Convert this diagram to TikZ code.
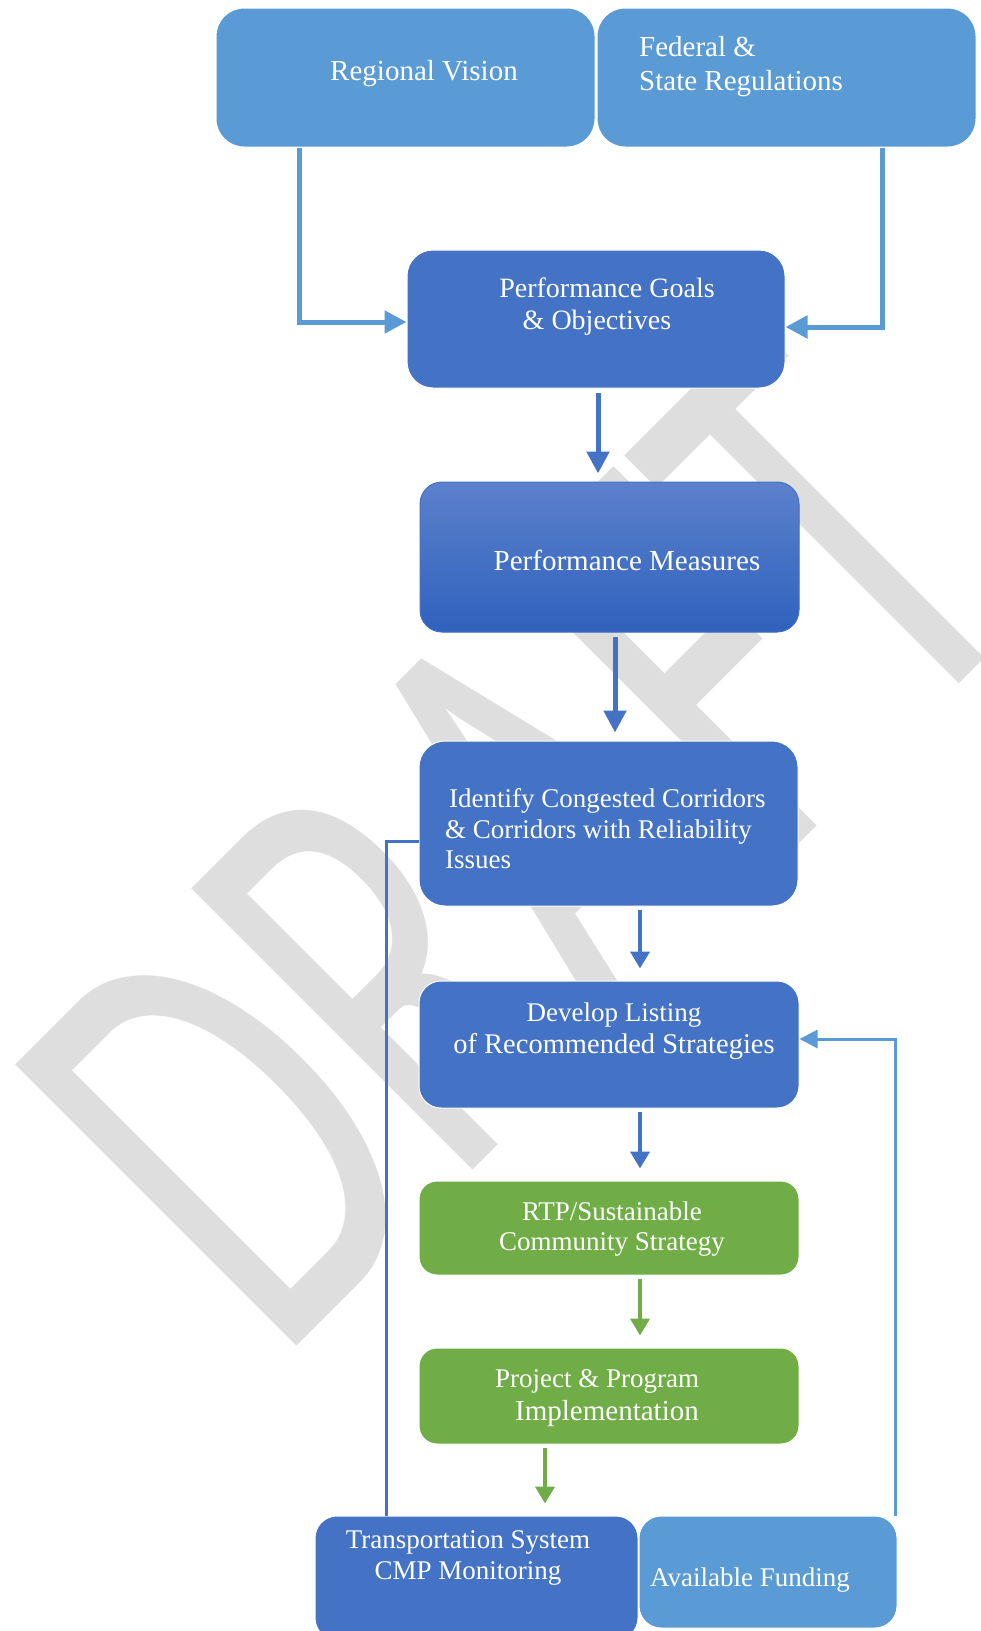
\documentclass[tikz,border=0pt]{standalone}
\usepackage{fontspec}
\setmainfont{Liberation Serif}
\newfontfamily\wmfont{Carlito}
\usetikzlibrary{arrows.meta}
\definecolor{lblue}{RGB}{91,155,213}
\definecolor{mblue}{RGB}{68,114,196}
\definecolor{dgreen}{RGB}{112,173,71}
\definecolor{wmgray}{RGB}{222,222,222}
\definecolor{meastop}{RGB}{92,129,204}
\definecolor{measbot}{RGB}{47,98,189}
\tikzset{
  box/.style={draw=white,line width=1pt,fill=#1,rounded corners=22pt,inner sep=0pt},
  lbl/.style={text=white,inner sep=0pt,align=center},
  lbarrow/.style={lblue,line width=5pt,-{Triangle[length=22pt,width=22pt]}},
  barrow/.style={mblue,line width=5pt,-{Triangle[length=22pt,width=22pt]},shorten <=4pt,shorten >=8pt},
  sarrow/.style={#1,line width=4pt,-{Triangle[length=17pt,width=19pt]},shorten <=3pt,shorten >=12pt},
  fback/.style={#1,line width=3pt}
}
\begin{document}
\begin{tikzpicture}[x=1pt,y=-1pt]
\useasboundingbox (0,0) rectangle (981,1631);

\node[rotate=45,anchor=base west,inner sep=0pt,text=wmgray] (wmark) at (277,1366)
  {\scalebox{0.65}[1]{\wmfont\fontsize{620}{620}\selectfont DRAFT}};

\node[box=lblue,rounded corners=28pt,minimum width=379pt,minimum height=139pt] (vis) at (405.5,77.5) {};
\node[box=lblue,rounded corners=28pt,minimum width=379pt,minimum height=139pt] (fed) at (786.5,77.5) {};
\node[box=mblue,rounded corners=26pt,minimum width=378pt,minimum height=138pt] (goal) at (596,319) {};
\node[box=mblue,draw=mblue,top color=meastop,bottom color=measbot,minimum width=379pt,minimum height=150pt] (meas) at (609.5,557) {};
\node[box=mblue,rounded corners=26pt,minimum width=379pt,minimum height=165pt] (iden) at (608.5,823.5) {};
\node[box=mblue,minimum width=380pt,minimum height=127pt] (devl) at (609,1044.5) {};
\node[box=dgreen,rounded corners=18pt,minimum width=380pt,minimum height=94pt] (rtp) at (609,1228) {};
\node[box=dgreen,rounded corners=18pt,minimum width=380pt,minimum height=96pt] (proj) at (609,1396) {};
\node[box=mblue,minimum width=323pt,minimum height=124pt] (tran) at (476.5,1578) {};
\node[box=lblue,minimum width=258pt,minimum height=112pt] (fund) at (768,1572) {};

\node[lbl,font=\fontsize{29}{34}\selectfont] (vistxt) at (424,74) {Regional Vision};
\node[lbl,font=\fontsize{29}{34}\selectfont,anchor=west,align=left] (fedtxt) at (639,67) {Federal \&\\State Regulations};
\node[lbl,font=\fontsize{28}{32}\selectfont] (goaltxt) at (607,307) {Performance Goals\\\& Objectives\hspace*{20pt}};
\node[lbl,font=\fontsize{29}{34}\selectfont] (meastxt) at (627,560) {Performance Measures};
\node[lbl,font=\fontsize{27}{30.5}\selectfont,anchor=west,align=left] (identxt) at (445,829) {\hspace*{4pt}Identify Congested Corridors\\\& Corridors with Reliability\\Issues};
\node[lbl,font=\fontsize{27}{32}\selectfont] (devltxt) at (614,1031) {Develop Listing\\{\fontsize{28.5}{32}\selectfont of Recommended Strategies}};
\node[lbl,font=\fontsize{27}{30}\selectfont] (rtptxt) at (612,1229) {RTP/Sustainable\\Community Strategy};
\node[lbl,font=\fontsize{27}{33}\selectfont] (projtxt) at (607,1398.5) {Project \& Program\hspace*{20pt}\\{\fontsize{29}{33}\selectfont Implementation}};
\node[lbl,font=\fontsize{27}{31}\selectfont] (trantxt) at (468,1558) {Transportation System\\CMP Monitoring};
\node[lbl,font=\fontsize{27}{31}\selectfont] (fundtxt) at (750,1580) {Available Funding};

\draw[lbarrow] (299,0 |- vis.south) |- (goal.west |- 0,322);
\draw[lbarrow] (882,0 |- fed.south) |- (goal.east |- 0,327);
\draw[barrow] (598,0 |- goal.south) -- (598,0 |- meas.north);
\draw[barrow] (615,0 |- meas.south) -- (615,0 |- iden.north);
\draw[sarrow=mblue] (640,0 |- iden.south) -- (640,0 |- devl.north);
\draw[sarrow=mblue] (640,0 |- devl.south) -- (640,0 |- rtp.north);
\draw[sarrow=dgreen] (640,0 |- rtp.south) -- (640,0 |- proj.north);
\draw[sarrow=dgreen] (545,0 |- proj.south) -- (545,0 |- tran.north);
\draw[fback=mblue] (386,0 |- tran.north) |- (iden.west |- 0,841);
\draw[fback=lblue,-{Triangle[length=18pt,width=18pt]}] (895,0 |- fund.north) |- (devl.east |- 0,1039);
\end{tikzpicture}
\end{document}
